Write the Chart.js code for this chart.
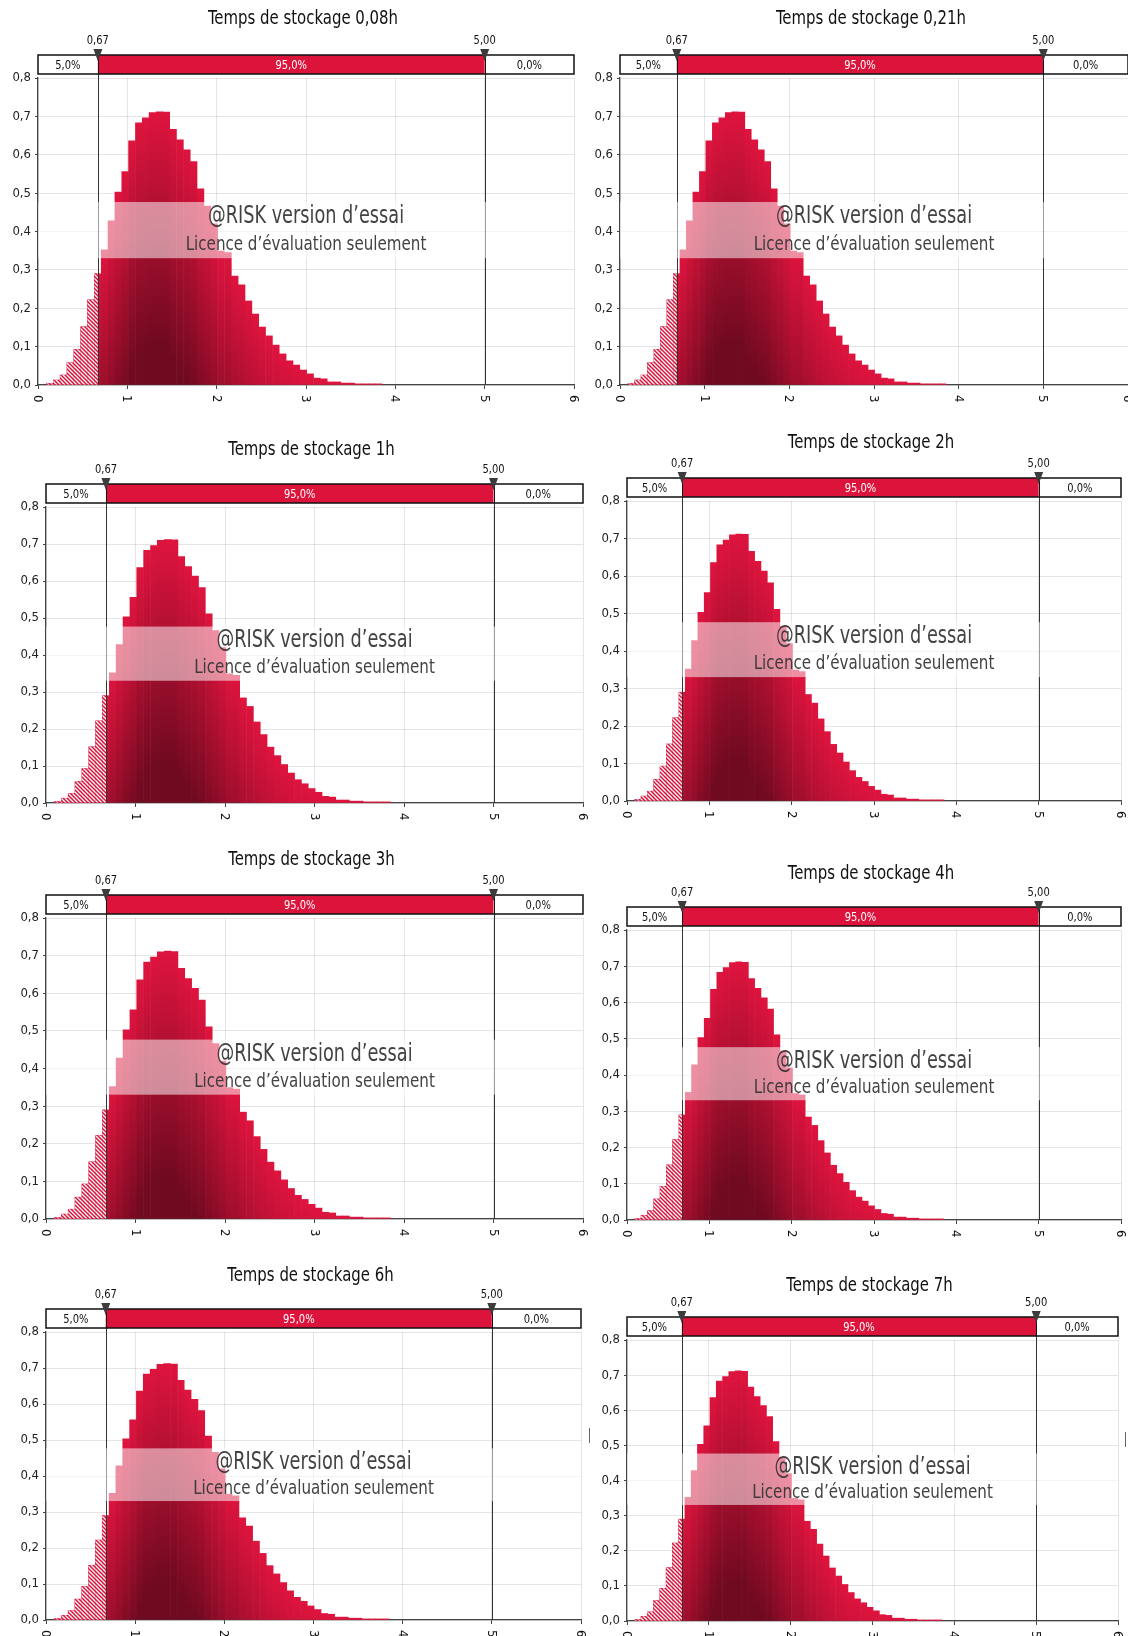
<!DOCTYPE html>
<html>
<head>
<meta charset="utf-8">
<script src="https://cdn.jsdelivr.net/npm/chart.js@4.4.1/dist/chart.umd.min.js"></script>
<style>
  html, body { margin: 0; padding: 0; background: #fff; width: 1128px; height: 1636px; overflow: hidden; position: relative; }
  canvas { position: absolute; }
  .tick { position: absolute; width: 1px; height: 15px; background: #666; }
</style>
</head>
<body>
<div class="tick" style="left:589px;top:1428px"></div>
<div class="tick" style="left:1125px;top:1432px"></div>
<script>
const FONT = '"DejaVu Sans Condensed", "Liberation Sans Narrow", sans-serif';

// one histogram per storage time, same simulated distribution in each
const panelTitles = [
  'Temps de stockage 0,08h', 'Temps de stockage 0,21h',
  'Temps de stockage 1h', 'Temps de stockage 2h',
  'Temps de stockage 3h', 'Temps de stockage 4h',
  'Temps de stockage 6h', 'Temps de stockage 7h'
];

const binCenters = [
  0.132, 0.209, 0.286, 0.362, 0.439, 0.516, 0.592, 0.669, 0.746, 0.822,
  0.899, 0.976, 1.052, 1.129, 1.206, 1.282, 1.359, 1.436, 1.512, 1.589,
  1.666, 1.742, 1.819, 1.896, 1.972, 2.049, 2.126, 2.202, 2.279, 2.356,
  2.432, 2.509, 2.586, 2.662, 2.739, 2.816, 2.892, 2.969, 3.046, 3.122,
  3.199, 3.276, 3.352, 3.429, 3.506, 3.582, 3.659, 3.736, 3.812
];

const density = [
  0.004, 0.013, 0.026, 0.058, 0.093, 0.152, 0.222, 0.290, 0.352, 0.428,
  0.503, 0.556, 0.636, 0.683, 0.696, 0.710, 0.712, 0.711, 0.666, 0.639,
  0.613, 0.582, 0.511, 0.466, 0.420, 0.349, 0.345, 0.284, 0.261, 0.219,
  0.185, 0.151, 0.128, 0.104, 0.081, 0.063, 0.052, 0.039, 0.029, 0.018,
  0.016, 0.008, 0.008, 0.005, 0.005, 0.003, 0.003, 0.003, 0.003
];

const markerValues = [0.67, 5.00];
const markerLabels = ['0,67', '5,00'];
const shareLabels = ['5,0%', '95,0%', '0,0%'];

// plot areas on the page (px): left, right, top, bottom, title centre line
const panels = [
  { l: 37.6, r: 574, t: 78.3, b: 385, ty: 19 },
  { l: 619.8, r: 1128.2, t: 78.3, b: 385, ty: 19 },
  { l: 45.9, r: 583.3, t: 507.1, b: 802.5, ty: 449.7 },
  { l: 627.1, r: 1120.7, t: 500.9, b: 801.4, ty: 442.4 },
  { l: 45.9, r: 583.3, t: 918.3, b: 1218.8, ty: 859.8 },
  { l: 627.1, r: 1120.7, t: 929.8, b: 1219.9, ty: 873.3 },
  { l: 45.9, r: 580.6, t: 1331.5, b: 1619.5, ty: 1275 },
  { l: 627.1, r: 1118, t: 1339.9, b: 1620.6, ty: 1285.5 }
];

const RED = 'rgb(220,20,60)';
const BRIGHT = [222, 20, 62];
const DARK = [112, 10, 32];

function mix(t) {
  return 'rgb(' + BRIGHT.map((c, i) => Math.round(c + (DARK[i] - c) * t)).join(',') + ')';
}

function barFill(context) {
  const chart = context.chart;
  const area = chart.chartArea;
  if (!area || context.type !== 'data') return RED;
  const v = context.raw.y;
  const yS = chart.scales.y;
  const top = yS.getPixelForValue(v);
  const base = yS.getPixelForValue(0);
  const full = 0.6;   // depth (in density units) at which the colour is darkest
  const g = chart.ctx.createLinearGradient(0, top, 0, base);
  g.addColorStop(0, mix(0));
  if (v > full) {
    g.addColorStop(0.5 * full / v, mix(0.5));
    g.addColorStop(full / v, mix(1));
    g.addColorStop(1, mix(1));
  } else {
    g.addColorStop(0.5, mix(0.5 * v / full));
    g.addColorStop(1, mix(v / full));
  }
  return g;
}

function makeHatch(ctx) {
  const c = document.createElement('canvas');
  c.width = 4; c.height = 4;
  const g = c.getContext('2d');
  g.fillStyle = 'rgb(216,20,60)';
  g.fillRect(0, 0, 4, 4);
  g.strokeStyle = '#fff';
  g.lineWidth = 1.3;
  g.beginPath();
  g.moveTo(-1, -1); g.lineTo(5, 5);
  g.moveTo(-1, 3); g.lineTo(1, 5);
  g.moveTo(3, -1); g.lineTo(5, 1);
  g.stroke();
  return ctx.createPattern(c, 'repeat');
}

// narrow, tall lettering like the original export
function narrowText(ctx, text, x, y, sx) {
  ctx.save();
  ctx.translate(x, y);
  ctx.scale(sx, 1);
  ctx.fillText(text, 0, 0);
  ctx.restore();
}

const panelDecor = {
  id: 'panelDecor',
  afterDatasetsDraw(chart) {
    // hatch the part of the distribution left of the first marker
    const { ctx, chartArea } = chart;
    const xS = chart.scales.x;
    const cut = xS.getPixelForValue(markerValues[0]);
    const meta = chart.getDatasetMeta(0);
    ctx.save();
    ctx.beginPath();
    ctx.rect(chartArea.left, chartArea.top, cut - chartArea.left, chartArea.height);
    ctx.clip();
    ctx.fillStyle = makeHatch(ctx);
    meta.data.forEach(el => {
      const p = el.getProps(['x', 'y', 'base', 'width'], true);
      ctx.fillRect(p.x - p.width / 2, p.y, p.width, p.base - p.y);
    });
    ctx.restore();
  },
  afterDraw(chart) {
    const { ctx, chartArea } = chart;
    const { left, right, top, bottom } = chartArea;
    const xS = chart.scales.x;
    const px = markerValues.map(v => xS.getPixelForValue(v));
    const barTop = top - 23, barBot = top - 4;

    // marker lines
    ctx.save();
    ctx.strokeStyle = '#333';
    ctx.lineWidth = 1;
    px.forEach(x => {
      ctx.beginPath();
      ctx.moveTo(Math.round(x) + 0.5, barBot);
      ctx.lineTo(Math.round(x) + 0.5, bottom);
      ctx.stroke();
    });

    // evaluation watermark band
    const h = bottom - top;
    const bTop = top + 0.404 * h, bBot = top + 0.587 * h;
    ctx.fillStyle = 'rgba(255,255,255,0.52)';
    ctx.fillRect(left, bTop, right - left, bBot - bTop);
    const cx = (left + right) / 2;
    ctx.fillStyle = 'rgba(50,50,50,0.92)';
    ctx.textAlign = 'center';
    ctx.textBaseline = 'middle';
    ctx.font = '24px ' + FONT;
    narrowText(ctx, '@RISK version d\u2019essai', cx, bTop + 0.27 * (bBot - bTop), 0.82);
    ctx.font = '20px ' + FONT;
    narrowText(ctx, 'Licence d\u2019\u00e9valuation seulement', cx, bTop + 0.76 * (bBot - bTop), 0.84);

    // range bar above the plot
    ctx.fillStyle = '#fff';
    ctx.fillRect(left, barTop, right - left, barBot - barTop);
    ctx.fillStyle = RED;
    ctx.fillRect(px[0], barTop, px[1] - px[0], barBot - barTop);
    ctx.strokeStyle = '#111';
    ctx.lineWidth = 1.5;
    ctx.strokeRect(left, barTop, right - left, barBot - barTop);
    ctx.lineWidth = 1;
    px.forEach(x => {
      ctx.beginPath();
      ctx.moveTo(Math.round(x) + 0.5, barTop);
      ctx.lineTo(Math.round(x) + 0.5, barBot);
      ctx.stroke();
    });
    ctx.font = '13px ' + FONT;
    const mid = (barTop + barBot) / 2 + 1;
    const segs = [[left, px[0]], [px[0], px[1]], [px[1], right]];
    segs.forEach((s, i) => {
      ctx.fillStyle = i === 1 ? '#fff' : '#111';
      narrowText(ctx, shareLabels[i], (s[0] + s[1]) / 2, mid, 0.85);
    });
    // marker triangles and values
    px.forEach((x, i) => {
      ctx.fillStyle = '#3c3c3c';
      ctx.beginPath();
      ctx.moveTo(x - 4.5, barTop - 6);
      ctx.lineTo(x + 4.5, barTop - 6);
      ctx.lineTo(x, barTop + 6);
      ctx.closePath();
      ctx.fill();
      ctx.fillStyle = '#111';
      narrowText(ctx, markerLabels[i], x, top - 37, 0.85);
    });

    // title
    const p = chart.options.plugins.panelDecor;
    ctx.font = '20px ' + FONT;
    ctx.fillStyle = '#111';
    narrowText(ctx, p.title, cx - 3, top - p.titleOffset, 0.83);

    // rotated x tick labels
    ctx.font = '13px ' + FONT;
    ctx.textAlign = 'left';
    xS.ticks.forEach(t => {
      const x = xS.getPixelForValue(t.value);
      ctx.save();
      ctx.translate(x, bottom + 10);
      ctx.rotate(Math.PI / 2);
      ctx.fillText(String(t.value), 0, 0.5);
      ctx.restore();
    });
    ctx.restore();
  }
};

const PAD_L = 40, PAD_T = 80, PAD_R = 14, PAD_B = 32;

panels.forEach((pn, idx) => {
  const l = Math.round(pn.l), r = Math.round(pn.r), t = Math.round(pn.t), b = Math.round(pn.b);
  const canvas = document.createElement('canvas');
  canvas.width = r - l + PAD_L + PAD_R;
  canvas.height = b - t + PAD_T + PAD_B;
  canvas.style.left = (l - PAD_L) + 'px';
  canvas.style.top = (t - PAD_T) + 'px';
  document.body.appendChild(canvas);

  const chart = new Chart(canvas, {
    type: 'bar',
    data: {
      datasets: [{
        data: binCenters.map((x, i) => ({ x: x, y: density[i] })),
        backgroundColor: barFill,
        borderWidth: 0,
        barPercentage: 1,
        categoryPercentage: 1,
        grouped: false
      }]
    },
    options: {
      responsive: false,
      animation: false,
      layout: { padding: { top: PAD_T, right: PAD_R, left: 0, bottom: 0 } },
      plugins: {
        legend: { display: false },
        tooltip: { enabled: false },
        panelDecor: { title: panelTitles[idx], titleOffset: pn.t - pn.ty }
      },
      scales: {
        x: {
          type: 'linear', min: 0, max: 6, offset: false, z: 1,
          afterFit: s => { s.height = PAD_B; },
          ticks: { stepSize: 1, display: false },
          grid: { offset: false, color: 'rgba(0,0,0,0.1)', tickColor: '#444', tickLength: 4 },
          border: { color: '#444', width: 1.3 }
        },
        y: {
          min: 0, max: 0.8, z: 1,
          afterFit: s => { s.width = PAD_L; },
          ticks: {
            stepSize: 0.1, padding: 4, color: '#222',
            font: { family: FONT, size: 13 },
            callback: v => v.toFixed(1).replace('.', ',')
          },
          grid: { color: 'rgba(0,0,0,0.1)', tickColor: '#444', tickLength: 3 },
          border: { color: '#444', width: 1.3 }
        }
      }
    },
    plugins: [panelDecor]
  });
  chart.update('none');
});
</script>
</body>
</html>
